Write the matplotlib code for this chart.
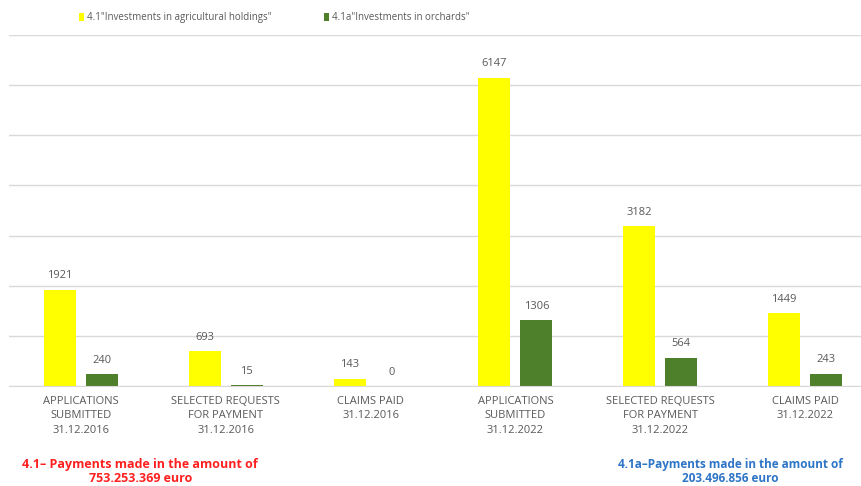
import matplotlib.pyplot as plt
import numpy as np

categories = ['APPLICATIONS\nSUBMITTED\n31.12.2016', 'SELECTED REQUESTS\nFOR PAYMENT\n31.12.2016',
              'CLAIMS PAID\n31.12.2016', 'APPLICATIONS\nSUBMITTED\n31.12.2022',
              'SELECTED REQUESTS\nFOR PAYMENT\n31.12.2022', 'CLAIMS PAID\n31.12.2022']
holdings = [1921, 693, 143, 6147, 3182, 1449]
orchards = [240, 15, 0, 1306, 564, 243]
series_names = ['4.1"Investments in agricultural holdings"', '4.1a"Investments in orchards"']

plt.rcParams['font.family'] = ['Open Sans', 'DejaVu Sans']

fig = plt.figure(figsize=(8.61, 4.86), dpi=100)
ax = fig.add_axes([0.01, 0.206, 1.009, 0.722])

x = np.arange(len(categories))
w = 0.22
off = 0.145
b1 = ax.bar(x - off, holdings, w, color='#ffff00', label=series_names[0], zorder=2)
b2 = ax.bar(x + off, orchards, w, color='#4e7f2a', label=series_names[1], zorder=2)

for bars, vals in [(b1, holdings), (b2, orchards)]:
    for r, v in zip(bars, vals):
        ax.annotate(str(v), (r.get_x() + r.get_width() / 2, v), xytext=(0, 6),
                    textcoords='offset points', ha='center', va='bottom',
                    fontsize=8, color='#595959')

ax.set_xlim(-0.5, 5.5)
ax.set_ylim(0, 7000)
ax.set_yticks(range(0, 7001, 1000))
ax.yaxis.grid(True, color='#d9d9d9', linewidth=1, zorder=0)
ax.tick_params(axis='y', left=False, labelleft=False)
ax.set_xticks(x)
ax.set_xticklabels(categories, fontsize=8, color='#595959', linespacing=1.45)
ax.tick_params(axis='x', length=0, pad=7)
for s in ['top', 'right', 'left']:
    ax.spines[s].set_visible(False)
ax.spines['bottom'].set_color('#d9d9d9')

leg = fig.legend(loc='center left', bbox_to_anchor=(0.092, 0.963), ncol=2, frameon=False,
                 fontsize=7, handlelength=0.5, handleheight=0.8, handletextpad=0.3,
                 columnspacing=5.4, borderpad=0, borderaxespad=0)
for t in leg.get_texts():
    t.set_color('#595959')

fig.text(0.163, 0.03, '4.1\u2013 Payments made in the amount of\n753.253.369 euro', ha='center',
         va='center', fontsize=9, fontweight='bold', color='#ff2020', linespacing=1.15)
fig.text(0.848, 0.03, '4.1a\u2013Payments made in the amount of\n203.496.856 euro', ha='center',
         va='center', fontsize=8.5, fontweight='bold', color='#2e75c6', linespacing=1.15)

fig.savefig('out.png', dpi=100)
